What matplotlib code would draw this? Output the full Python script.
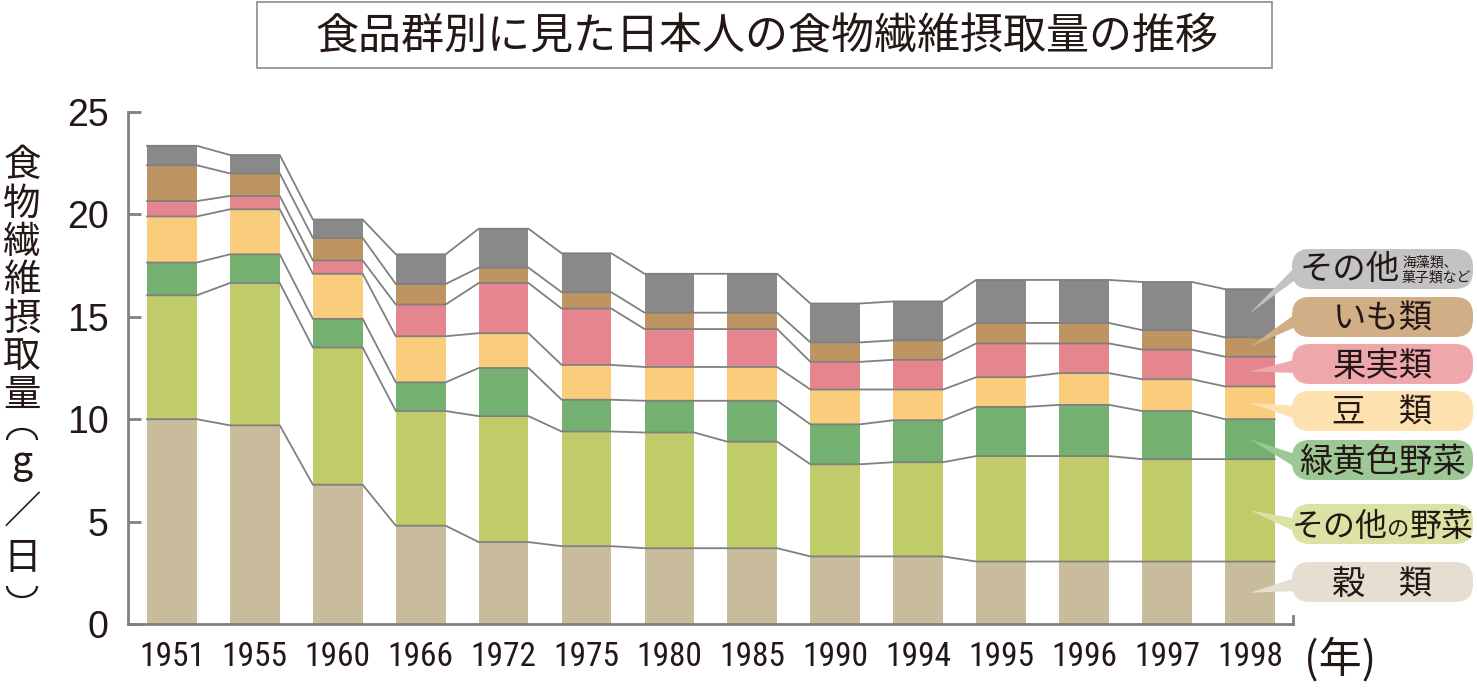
import numpy as np
import matplotlib
matplotlib.use("Agg")
import matplotlib.pyplot as plt
from matplotlib import font_manager
from matplotlib.patches import Arc, FancyBboxPatch, Polygon, Rectangle

# Data (g/day)
years = ["1951", "1955", "1960", "1966", "1972", "1975", "1980",
         "1985", "1990", "1994", "1995", "1996", "1997", "1998"]
grain = [10.0, 9.7, 6.8, 4.8, 4.0, 3.8, 3.7, 3.7, 3.3, 3.3, 3.05, 3.05, 3.05, 3.05]
other_veg = [6.05, 6.95, 6.7, 5.6, 6.15, 5.6, 5.65, 5.2, 4.5, 4.6, 5.15, 5.15, 5.0, 5.0]
gy_veg = [1.6, 1.4, 1.4, 1.4, 2.35, 1.55, 1.55, 2.0, 1.95, 2.05, 2.4, 2.5, 2.35, 1.95]
beans = [2.25, 2.2, 2.2, 2.25, 1.7, 1.7, 1.65, 1.65, 1.7, 1.5, 1.45, 1.55, 1.55, 1.6]
fruit = [0.75, 0.65, 0.65, 1.55, 2.45, 2.75, 1.85, 1.85, 1.35, 1.45, 1.65, 1.45, 1.45, 1.45]
potato = [1.75, 1.1, 1.1, 1.0, 0.75, 0.8, 0.8, 0.8, 0.95, 0.95, 1.0, 1.0, 0.95, 0.95]
others = [0.95, 0.9, 0.9, 1.45, 1.9, 1.9, 1.9, 1.9, 1.9, 1.9, 2.1, 2.1, 2.35, 2.35]

TITLE = "食品群別に見た日本人の食物繊維摂取量の推移"
Y_LABEL_CHARS = ["食", "物", "繊", "維", "摂", "取", "量", "g", "／", "日"]
Y_LABEL_POS = [166, 204, 242, 281, 319, 357, 395, 463, 512, 558]
YEAR_UNIT = "(年)"

series = [grain, other_veg, gy_veg, beans, fruit, potato, others]
bar_colors = ["#c9bc9d", "#c0cc69", "#74b070", "#f9cd7c", "#e5868e", "#bd9462", "#898989"]
box_colors = ["#e6ded0", "#dbe3a4", "#9dc794", "#fde1b1", "#eea8ac", "#d1ae85", "#c3c3c3"]
box_cy = [582, 524, 460, 411, 364, 317, 269]  # legend box centres, px from top

TEXT_COLOR = "#231815"
LINE_COLOR = "#808080"
CJK = ["Noto Sans CJK JP", "DejaVu Sans"]

W, H = 1477, 690
fig = plt.figure(figsize=(W / 100, H / 100), dpi=100)


def px(x, y):
    # pixel position (from top-left) -> figure fraction
    return x / W, 1 - y / H


# font for year labels: a narrow sans if one is installed
names = {f.name for f in font_manager.fontManager.ttflist}
num_font = "Liberation Sans"
for cand in ["Liberation Sans Narrow", "Roboto Condensed", "Open Sans Condensed"]:
    if cand in names:
        num_font = cand
        break

ax = fig.add_axes([128 / W, (H - 624) / H, (1293 - 128) / W, (624 - 112) / H])
x = np.arange(len(years))
bar_w = 0.6
bottom = np.zeros(len(years))
levels = []
for vals, col in zip(series, bar_colors):
    vals = np.array(vals)
    ax.bar(x, vals, bar_w, bottom=bottom, color=col, linewidth=0, zorder=2)
    bottom = bottom + vals
    levels.append(bottom.copy())

# connecting lines between the segment boundaries
for lev in levels:
    xs, ys = [], []
    for i in range(len(years)):
        xs += [x[i] - bar_w / 2, x[i] + bar_w / 2]
        ys += [lev[i], lev[i]]
    ax.plot(xs, ys, color=LINE_COLOR, lw=1.3, zorder=3)

ax.set_xlim(-0.53, len(years) - 0.48)
ax.set_ylim(0, 25)
ax.set_yticks([0, 5, 10, 15, 20, 25])
ax.set_xticks(x)
ax.set_xticklabels(years, fontsize=24, family=num_font, color=TEXT_COLOR)
for lab in ax.get_yticklabels():
    lab.set_fontsize(27)
    lab.set_family("Liberation Sans")
    lab.set_color(TEXT_COLOR)
ax.tick_params(axis="y", direction="in", length=9, width=2, color=LINE_COLOR, pad=14)
ax.tick_params(axis="x", length=0, pad=12)
ax.spines["top"].set_visible(False)
ax.spines["right"].set_bounds(0, 0.4)
for s in ["left", "bottom", "right"]:
    ax.spines[s].set_color(LINE_COLOR)
    ax.spines[s].set_linewidth(2)
ax.patch.set_alpha(0)

# title in a box
x0, y0 = px(257, 68)
x1, y1 = px(1272, 2)
fig.add_artist(Rectangle((x0, y0), x1 - x0, y1 - y0, transform=fig.transFigure,
                         facecolor="white", edgecolor="#8c8c8c", lw=1.2))
fig.text(*px(767, 37), TITLE, fontsize=31, family=CJK, color=TEXT_COLOR,
         ha="center", va="center")

# vertical y label, one character per line
for ch, yy in zip(Y_LABEL_CHARS, Y_LABEL_POS):
    fig.text(*px(22, yy), ch, fontsize=27, family=CJK, color=TEXT_COLOR,
             ha="center", va="center")
# vertical-writing brackets drawn as arcs (inch coordinates keep them round)
fig.add_artist(Arc((22 / 100, (H - 440) / 100), 0.30, 0.22, theta1=0, theta2=180,
                   transform=fig.dpi_scale_trans, color=TEXT_COLOR, lw=1.6))
fig.add_artist(Arc((22 / 100, (H - 586) / 100), 0.30, 0.22, theta1=180, theta2=360,
                   transform=fig.dpi_scale_trans, color=TEXT_COLOR, lw=1.6))

fig.text(*px(1340, 660), YEAR_UNIT, fontsize=31, family=CJK, color=TEXT_COLOR,
         ha="center", va="center")

# callout legend on the right
renderer = fig.canvas.get_renderer()
to_fig = fig.transFigure.inverted()
bx0, bx1, bh = 1292, 1473, 40
last = len(years) - 1
prev = np.zeros(len(years))
for k, (lev, cy) in enumerate(zip(levels, box_cy)):
    mid = (prev[last] + lev[last]) / 2
    prev = lev
    tip = to_fig.transform(ax.transData.transform((x[last], mid)))
    b1 = px(bx0 + 6, cy - 5)
    b2 = px(bx0 + 6, cy + 9)
    fig.add_artist(Polygon([tip, b1, b2], closed=True, transform=fig.transFigure,
                           facecolor=box_colors[k], edgecolor="none", zorder=5))
    lx, ly = px(bx0, cy + bh / 2)
    rx, ry = px(bx1, cy - bh / 2)
    fig.add_artist(FancyBboxPatch((lx, ly), rx - lx, ry - ly,
                                  boxstyle="round,pad=0,rounding_size=0.012",
                                  mutation_aspect=W / H,
                                  transform=fig.transFigure,
                                  facecolor=box_colors[k], edgecolor="none", zorder=5))


def chain(pieces, cx, cy):
    texts = []
    for s, size in pieces:
        t = fig.text(0, 0, s, fontsize=size, family=CJK, color=TEXT_COLOR,
                     ha="left", va="baseline", zorder=6)
        texts.append(t)
    widths = [t.get_window_extent(renderer).width for t in texts]
    total = sum(widths)
    xpos = cx - total / 2
    base = cy + 12
    for t, w in zip(texts, widths):
        t.set_position(px(xpos, base))
        xpos += w


simple = {0: "穀　類", 2: "緑黄色野菜", 3: "豆　類", 4: "果実類", 5: "いも類"}
cxm = (bx0 + bx1) / 2
for k, s in simple.items():
    chain([(s, 24)], cxm, box_cy[k])
chain([("その他", 23), ("の", 16), ("野菜", 23)], cxm, box_cy[1])

fig.text(*px(1300, box_cy[6] + 1), "その他", fontsize=24, family=CJK, color=TEXT_COLOR,
         ha="left", va="center", zorder=6)
fig.text(*px(1402, box_cy[6] + 1), "海藻類、\n菓子類など", fontsize=10, family=CJK,
         color=TEXT_COLOR, ha="left", va="center", linespacing=1.1, zorder=6)

fig.savefig("out.png", dpi=100)
